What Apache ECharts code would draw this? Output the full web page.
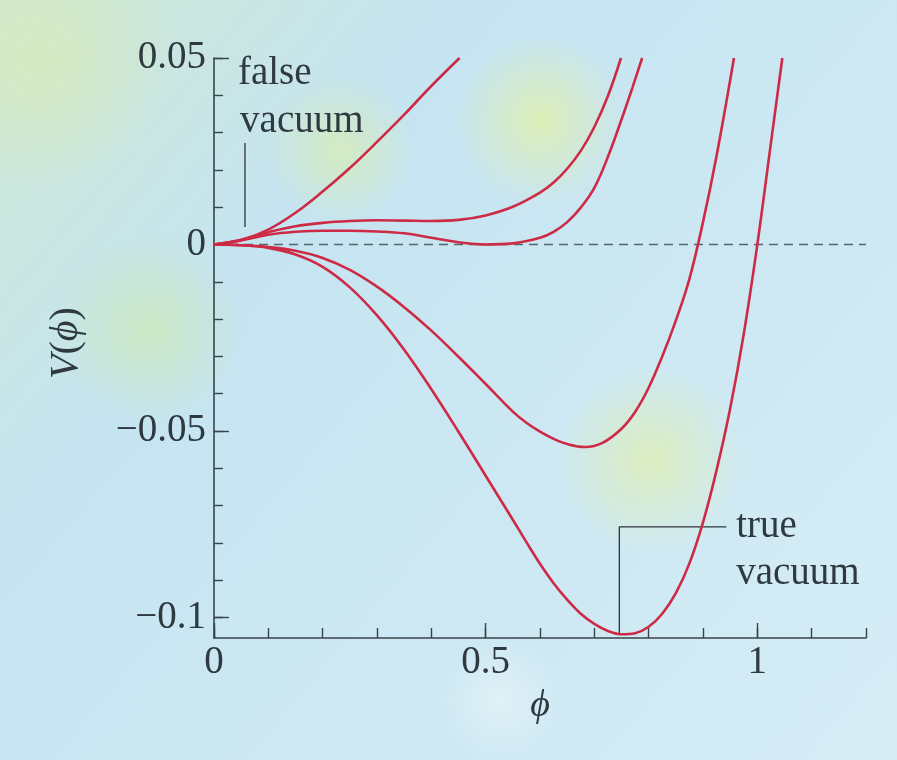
<!DOCTYPE html>
<html>
<head>
<meta charset="utf-8">
<script src="https://cdn.jsdelivr.net/npm/echarts@6/dist/echarts.min.js"></script>
<style>
  html, body { margin: 0; padding: 0; background: #c9e6f2; }
  #chart { width: 897px; height: 760px; }
</style>
</head>
<body>
<div id="chart"></div>
<script>
// Potential V(phi) for several values of the asymmetry parameter
const phiA = [0, 0.05, 0.1, 0.15, 0.2, 0.25, 0.3, 0.35, 0.4, 0.452];
const vA   = [0, 0.0012, 0.004, 0.0085, 0.0142, 0.0205, 0.0275, 0.0348, 0.0425, 0.05];

const phiB = [0, 0.05, 0.1, 0.15, 0.2, 0.25, 0.3, 0.35, 0.4, 0.45, 0.5, 0.55, 0.6, 0.625, 0.65, 0.675, 0.7, 0.725, 0.749];
const vB   = [0, 0.0013, 0.0033, 0.0049, 0.0058, 0.0063, 0.0065, 0.0064, 0.0063, 0.0066, 0.0078, 0.0101, 0.0139, 0.0166, 0.0203, 0.0251, 0.0315, 0.0398, 0.05];

const phiC = [0, 0.05, 0.1, 0.15, 0.2, 0.25, 0.3, 0.35, 0.4, 0.45, 0.5, 0.55, 0.6, 0.625, 0.65, 0.675, 0.7, 0.725, 0.75, 0.77, 0.788];
const vC   = [0, 0.0011, 0.0026, 0.0034, 0.0037, 0.0037, 0.0035, 0.003, 0.0018, 0.0006, 0.0, 0.0003, 0.0018, 0.0034, 0.006, 0.0099, 0.0152, 0.0235, 0.0335, 0.042, 0.05];

const phiD = [0, 0.05, 0.1, 0.15, 0.2, 0.25, 0.3, 0.35, 0.4, 0.45, 0.5, 0.55, 0.575, 0.6, 0.625, 0.65, 0.683, 0.715, 0.75, 0.775, 0.8, 0.825, 0.85, 0.875, 0.9, 0.925, 0.957];
const vD   = [0, -0.0002, -0.0007, -0.0017, -0.0036, -0.0068, -0.0113, -0.0168, -0.0231, -0.0301, -0.0374, -0.0448, -0.0478, -0.0502, -0.0521, -0.0535, -0.0543, -0.0532, -0.0494, -0.0449, -0.0384, -0.03, -0.0204, -0.0092, 0.006, 0.0238, 0.05];

const phiE = [0, 0.05, 0.1, 0.15, 0.2, 0.25, 0.3, 0.35, 0.4, 0.45, 0.5, 0.525, 0.55, 0.575, 0.6, 0.625, 0.65, 0.675, 0.7, 0.725, 0.75, 0.775, 0.8, 0.825, 0.85, 0.875, 0.9, 0.925, 0.95, 0.975, 1.0, 1.023, 1.046];
const vE   = [0, -0.0002, -0.0009, -0.0027, -0.006, -0.0115, -0.019, -0.0282, -0.0388, -0.0502, -0.062, -0.0679, -0.0738, -0.0798, -0.0856, -0.0908, -0.0952, -0.099, -0.1017, -0.1036, -0.1045, -0.1042, -0.1025, -0.099, -0.0935, -0.0855, -0.0745, -0.0605, -0.044, -0.024, 0.0, 0.025, 0.05];

// Axis ticks and labels
const xMinorTicks = [0, 0.1, 0.2, 0.3, 0.4, 0.5, 0.6, 0.7, 0.8, 0.9, 1, 1.1, 1.2];
const xMajorTicks = [0, 0.5, 1];
const xTickLabels = ['0', '0.5', '1'];
const yMinorTicks = [-0.1, -0.09, -0.08, -0.07, -0.06, -0.05, -0.04, -0.03, -0.02, -0.01, 0, 0.01, 0.02, 0.03, 0.04, 0.05];
const yMajorTicks = [-0.1, -0.05, 0, 0.05];
const yTickLabels = ['\u22120.1', '\u22120.05', '0', '0.05'];

// Leader lines for the two annotations (data coordinates)
const falseLeaderPhi = [0.057, 0.057];
const falseLeaderV   = [0.0047, 0.0272];
const trueLeaderPhi  = [0.746, 0.746, 0.943];
const trueLeaderV    = [-0.1043, -0.0757, -0.0757];

const pairs = (xs, ys) => xs.map((x, i) => [x, ys[i]]);

const SERIF = "'Liberation Serif', 'DejaVu Serif', serif";
const AXIS = '#38444b';
const CURVE = '#cd2b45';
const TEXT = '#2f3a40';

const chart = echarts.init(document.getElementById('chart'), null, { renderer: 'canvas' });

function curve(name, xs, ys) {
  return {
    name, type: 'line', data: pairs(xs, ys), smooth: 0.4, showSymbol: false, clip: true,
    lineStyle: { color: CURVE, width: 2.6 }, z: 3, silent: true
  };
}
function leader(xs, ys) {
  return {
    type: 'line', data: pairs(xs, ys), showSymbol: false, clip: false,
    lineStyle: { color: '#2c353a', width: 1.3 }, z: 2, silent: true
  };
}
function blob(cx, cy, rx, ry, rot, color) {
  return {
    type: 'ellipse', shape: { cx: 0, cy: 0, rx, ry }, x: cx, y: cy, rotation: rot, z: -10, silent: true,
    style: {
      fill: new echarts.graphic.RadialGradient(0.5, 0.5, 0.5, [
        { offset: 0, color: color },
        { offset: 1, color: color.replace(/[\d.]+\)$/, '0)') }
      ])
    }
  };
}

const option = {
  animation: false,
  backgroundColor: {
    type: 'linear', x: 0, y: 0, x2: 1, y2: 1,
    colorStops: [
      { offset: 0, color: '#cfe8d2' },
      { offset: 0.3, color: '#c5e4f1' },
      { offset: 1, color: '#d6edf6' }
    ]
  },
  grid: { left: 214, right: 31, top: 58, bottom: 122, containLabel: false },
  xAxis: [
    {
      type: 'value', min: 0, max: 1.2, interval: 0.1,
      axisLine: { show: true, onZero: false, lineStyle: { color: AXIS, width: 1.6 } },
      axisTick: { show: true, inside: true, length: 10, customValues: xMinorTicks, lineStyle: { color: AXIS, width: 1.4 } },
      axisLabel: {
        customValues: xMajorTicks, margin: 5,
        formatter: v => xTickLabels[xMajorTicks.indexOf(v)] ?? '',
        fontFamily: SERIF, fontSize: 39, color: TEXT
      },
      splitLine: { show: false },
      name: '\u03D5', nameLocation: 'middle', nameGap: 38,
      nameTextStyle: { fontFamily: SERIF, fontStyle: 'italic', fontSize: 38, color: TEXT }
    },
    {
      type: 'value', min: 0, max: 1.2, position: 'bottom',
      axisLine: { show: false, onZero: false },
      axisTick: { show: true, inside: true, length: 15, customValues: xMajorTicks, lineStyle: { color: AXIS, width: 1.4 } },
      axisLabel: { show: false }, splitLine: { show: false }
    }
  ],
  yAxis: [
    {
      type: 'value', min: -0.1055, max: 0.05,
      axisLine: { show: true, onZero: false, lineStyle: { color: AXIS, width: 1.6 } },
      axisTick: { show: true, inside: true, length: 9, customValues: yMinorTicks, lineStyle: { color: AXIS, width: 1.4 } },
      axisLabel: {
        customValues: yMajorTicks, margin: 8,
        formatter: v => yTickLabels[yMajorTicks.indexOf(v)] ?? '',
        fontFamily: SERIF, fontSize: 39, color: TEXT
      },
      splitLine: { show: false }
    },
    {
      type: 'value', min: -0.1055, max: 0.05, position: 'left',
      axisLine: { show: false, onZero: false },
      axisTick: { show: true, inside: true, length: 15, customValues: yMajorTicks, lineStyle: { color: AXIS, width: 1.4 } },
      axisLabel: { show: false }, splitLine: { show: false }
    }
  ],
  series: [
    {
      type: 'line', data: [[0, 0], [1.2, 0]], showSymbol: false, z: 1, silent: true,
      lineStyle: { color: '#56646c', width: 1.3, type: [9, 6] }
    },
    curve('A', phiA, vA),
    curve('B', phiB, vB),
    curve('C', phiC, vC),
    curve('D', phiD, vD),
    curve('E', phiE, vE),
    leader(falseLeaderPhi, falseLeaderV),
    leader(trueLeaderPhi, trueLeaderV)
  ],
  graphic: [
    blob(40, 60, 200, 130, -0.6, 'rgba(214,234,190,0.9)'),
    blob(340, 150, 130, 75, -0.5, 'rgba(214,236,184,0.85)'),
    blob(540, 120, 140, 85, -0.5, 'rgba(222,238,176,0.9)'),
    blob(150, 330, 120, 95, -0.6, 'rgba(204,232,190,0.9)'),
    blob(650, 460, 150, 95, -0.6, 'rgba(222,238,182,0.85)'),
    blob(500, 700, 300, 60, 0, 'rgba(232,244,248,0.7)')
  ]
};
chart.setOption(option);

// Annotation texts anchored in data coordinates
const annotations = [
  { text: 'false', at: [0.044, 0.0457] },
  { text: 'vacuum', at: [0.048, 0.0328] },
  { text: 'true', at: [0.961, -0.0757] },
  { text: 'vacuum', at: [0.961, -0.0883] }
];
const texts = annotations.map(a => {
  const p = chart.convertToPixel({ gridIndex: 0 }, a.at);
  return {
    type: 'text', x: p[0], y: p[1], z: 10, silent: true,
    style: { text: a.text, fill: TEXT, font: '39px ' + SERIF, textAlign: 'left', textVerticalAlign: 'middle' }
  };
});
const yName = {
  type: 'text', x: 66, y: 343, rotation: Math.PI / 2, z: 10, silent: true,
  style: {
    text: '{it|V}({it|\u03D5})', fill: TEXT, font: '40px ' + SERIF,
    textAlign: 'center', textVerticalAlign: 'middle',
    rich: { it: { fontStyle: 'italic', fontFamily: SERIF, fontSize: 40, fill: TEXT } }
  }
};
chart.setOption({ graphic: option.graphic.concat(texts, [yName]) });
</script>
</body>
</html>
